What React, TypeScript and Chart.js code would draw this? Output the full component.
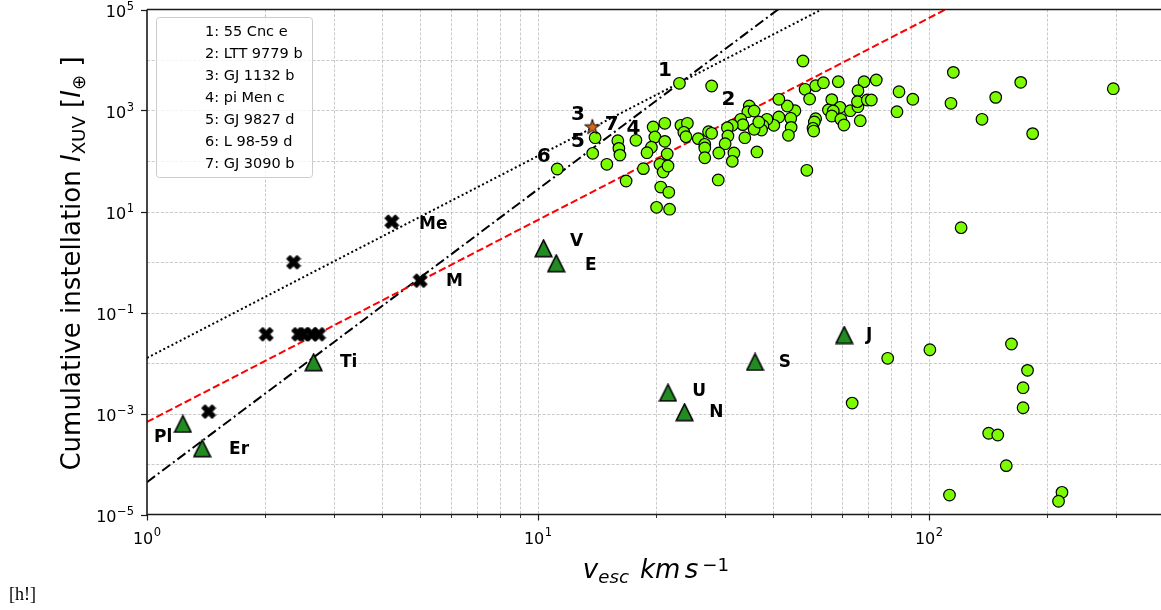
import React, { useEffect, useRef } from 'react';
import { Chart, registerables } from 'chart.js';

Chart.register(...registerables);

// ---------- data ----------
const planetV = [
  23.0, 27.8, 47.6, 48.2, 49.5, 51.3, 53.7, 58.6, 73.3, 68.2,
  65.8, 83.8, 90.9, 82.8, 56.4, 59.2, 55.3, 56.9, 56.4, 59.5,
  60.6, 62.9, 65.8, 65.6, 69.5, 71.2, 66.7, 51.3, 50.9, 50.5,
  50.7, 48.7, 45.4, 43.4, 41.3, 41.3, 44.3, 44.4, 43.7, 40.1,
  38.5, 37.6, 37.3, 35.7, 36.7, 36.3, 34.7, 34.4, 35.7, 33.0,
  33.4, 33.8, 31.4, 30.5, 30.6, 30.1, 29.0, 31.7, 31.4, 28.9,
  27.3, 27.8, 25.7, 26.7, 26.7, 26.7, 23.2, 24.1, 23.6, 23.9,
  21.1, 19.7, 19.9, 21.1, 19.5, 19.0, 21.4, 20.5, 20.9, 21.5,
  20.6, 21.6, 20.1, 21.7, 18.6, 17.8, 16.0, 16.1, 16.2, 16.8,
  15.0, 14.0, 13.8, 11.2,
  115.4, 113.8, 148.1, 171.6, 136.6, 184.1, 296, 120.8,
  78.4, 100.5, 162.5, 178.6, 174, 174, 63.6, 142.1, 149.9, 157.6, 112.8, 218.8, 214.4,
];
const planetI = [
  3460, 3055, 9550, 2630, 1690, 3100, 3550, 3720, 4020, 3720,
  2470, 2350, 1670, 946, 1640, 1156, 1023, 977, 778, 670,
  516, 991, 1189, 1494, 1614, 1614, 628, 689, 592, 444,
  392, 65.5, 991, 1227, 1667, 743, 701, 464, 323, 509,
  670, 500, 411, 425, 592, 151, 1227, 946, 977, 670,
  524, 289, 509, 456, 313, 220, 144, 144, 98.6, 42.1,
  380, 354, 277, 214, 181, 116, 509, 558, 370, 303,
  558, 471, 299, 245, 187, 146, 138, 86.1, 60.6, 79.6,
  30.5, 24.0, 12.1, 11.1, 70.5, 257, 252, 178, 131, 40.2,
  86.1, 289, 142, 69.5,
  5700, 1390, 1820, 3610, 670, 348, 2700, 4.78,
  0.0124, 0.0183, 0.0238, 0.00716, 0.00324, 0.0013, 0.00161, 4.06e-4, 3.75e-4, 9.27e-5, 2.43e-5, 2.75e-5, 1.83e-5,
];

// GJ 1132 b (star marker)
const starV = [13.77];
const starI = [477];

// Solar-system bodies (triangles)
const triangleV = [1.235, 1.384, 2.667, 10.33, 11.13, 21.5, 23.7, 35.9, 60.7];
const triangleI = [6.2e-4, 2.05e-4, 0.01033, 1.87, 0.942, 0.00258, 0.00106, 0.01047, 0.0358];

// rocky bodies (filled X)
const crossV = [4.227, 2.37, 2.018, 2.441, 2.513, 2.64, 2.746, 4.996, 1.437];
const crossI = [6.28, 0.986, 0.037, 0.037, 0.037, 0.037, 0.037, 0.427, 0.00109];

// body labels
const bodyLabels = ['Pl', 'Er', 'Ti', 'M', 'Me', 'V', 'E', 'U', 'N', 'S', 'J'];
const bodyLabelV = [1.042, 1.621, 3.116, 5.817, 4.963, 12.07, 13.19, 24.8, 27.4, 41.3, 69.0];
const bodyLabelI = [3.58e-4, 2.05e-4, 0.01096, 0.45, 6.11, 2.73, 0.942, 0.00292, 0.00112, 0.01096, 0.0375];

// numbered planet labels
const numLabels = ['1', '2', '3', '4', '5', '6', '7'];
const numLabelV = [20.28, 29.45, 12.15, 16.83, 12.15, 9.92, 14.81];
const numLabelI = [6640, 1807, 912, 477, 261, 131.5, 565];

const legendNames = [
  '1: 55 Cnc e',
  '2: LTT 9779 b',
  '3: GJ 1132 b',
  '4: pi Men c',
  '5: GJ 9827 d',
  '6: L 98-59 d',
  '7: GJ 3090 b',
];

// reference lines (power laws), endpoints
const lineV = [1, 400];
const redLineI = [6.8e-4, 1.74e7];
const dottedLineI = [0.0126, 3.22e8];
const dashDotLineI = [4.37e-5, 5.4e10];

// axes
const X_MIN = 1;
const X_MAX = 392;
const Y_MIN = 1e-5;
const Y_MAX = 1e5;
const xMajorTicks = [1, 10, 100];
const xMinorTicks = [2, 3, 4, 5, 6, 7, 8, 9, 20, 30, 40, 50, 60, 70, 80, 90, 200, 300];
const xLabelExp = [0, 1, 2];
const yGridExp = [-4, -3, -2, -1, 0, 1, 2, 3, 4];
const yLabelExp = [-5, -3, -1, 1, 3, 5];

const FONT = "'DejaVu Sans', sans-serif";

// ---------- marker images ----------
function makeTriangle(): HTMLCanvasElement {
  const s = 19;
  const c = document.createElement('canvas');
  c.width = s; c.height = s;
  const ctx = c.getContext('2d')!;
  ctx.beginPath();
  ctx.moveTo(s / 2, 1.2);
  ctx.lineTo(s - 1.2, s - 1.2);
  ctx.lineTo(1.2, s - 1.2);
  ctx.closePath();
  ctx.fillStyle = '#228b22';
  ctx.fill();
  ctx.lineWidth = 1.5;
  ctx.strokeStyle = '#000';
  ctx.lineJoin = 'miter';
  ctx.stroke();
  return c;
}

function makeCross(): HTMLCanvasElement {
  const s = 16;
  const size = 14;
  const o = (s - size) / 2;
  const pts = [
    [0.25, 0.0], [0.5, 0.25], [0.75, 0.0], [1.0, 0.25], [0.75, 0.5], [1.0, 0.75],
    [0.75, 1.0], [0.5, 0.75], [0.25, 1.0], [0.0, 0.75], [0.25, 0.5], [0.0, 0.25],
  ];
  const c = document.createElement('canvas');
  c.width = s; c.height = s;
  const ctx = c.getContext('2d')!;
  ctx.beginPath();
  pts.forEach(([px, py], i) => {
    const x = o + px * size;
    const y = o + py * size;
    if (i === 0) ctx.moveTo(x, y); else ctx.lineTo(x, y);
  });
  ctx.closePath();
  ctx.fillStyle = '#000';
  ctx.fill();
  ctx.lineWidth = 1;
  ctx.strokeStyle = '#000';
  ctx.stroke();
  return c;
}

function makeStar(): HTMLCanvasElement {
  const s = 18;
  const R = 8;
  const r = R * 0.381966;
  const c = document.createElement('canvas');
  c.width = s; c.height = s;
  const ctx = c.getContext('2d')!;
  ctx.beginPath();
  for (let i = 0; i < 10; i++) {
    const ang = -Math.PI / 2 + (i * Math.PI) / 5;
    const rad = i % 2 === 0 ? R : r;
    const x = s / 2 + rad * Math.cos(ang);
    const y = s / 2 + 0.6 + rad * Math.sin(ang);
    if (i === 0) ctx.moveTo(x, y); else ctx.lineTo(x, y);
  }
  ctx.closePath();
  ctx.fillStyle = '#d2691e';
  ctx.fill();
  ctx.lineWidth = 1;
  ctx.strokeStyle = '#000';
  ctx.stroke();
  return c;
}

// ---------- text helpers ----------
type Piece = { t?: string; font?: string; dy?: number; gap?: number };

function richWidth(ctx: CanvasRenderingContext2D, pieces: Piece[]) {
  let w = 0;
  for (const p of pieces) {
    if (p.gap) { w += p.gap; continue; }
    ctx.font = p.font!;
    w += ctx.measureText(p.t!).width;
  }
  return w;
}

function drawRich(ctx: CanvasRenderingContext2D, pieces: Piece[], x: number, y: number) {
  let cx = x;
  ctx.textAlign = 'left';
  ctx.textBaseline = 'alphabetic';
  for (const p of pieces) {
    if (p.gap) { cx += p.gap; continue; }
    ctx.font = p.font!;
    ctx.fillText(p.t!, cx, y + (p.dy || 0));
    cx += ctx.measureText(p.t!).width;
  }
}

function drawPow(ctx: CanvasRenderingContext2D, exp: number, x: number, baseY: number, align: 'right' | 'center') {
  const base = '10';
  const sup = exp < 0 ? '\u2212' + Math.abs(exp) : String(exp);
  ctx.font = `16px ${FONT}`;
  const wb = ctx.measureText(base).width;
  ctx.font = `11.5px ${FONT}`;
  const ws = ctx.measureText(sup).width;
  const total = wb + ws + 0.5;
  const left = align === 'right' ? x - total : x - total / 2;
  ctx.textAlign = 'left';
  ctx.textBaseline = 'alphabetic';
  ctx.fillStyle = '#000';
  ctx.font = `16px ${FONT}`;
  ctx.fillText(base, left, baseY);
  ctx.font = `11.5px ${FONT}`;
  ctx.fillText(sup, left + wb + 0.5, baseY - 7.2);
}

const decorPlugin = {
  id: 'decor',
  beforeDatasetsDraw(chart: any) {
    const { ctx, chartArea: a, scales } = chart;
    const xs = scales.x;
    const ys = scales.y;
    ctx.save();
    ctx.strokeStyle = '#bdbdbd';
    ctx.lineWidth = 0.8;
    ctx.setLineDash([3, 1.6]);
    [...xMajorTicks.slice(1), ...xMinorTicks].forEach((v) => {
      const px = Math.round(xs.getPixelForValue(v)) + 0.5;
      ctx.beginPath();
      ctx.moveTo(px, a.top);
      ctx.lineTo(px, a.bottom);
      ctx.stroke();
    });
    yGridExp.forEach((e) => {
      const py = Math.round(ys.getPixelForValue(Math.pow(10, e))) + 0.5;
      ctx.beginPath();
      ctx.moveTo(a.left, py);
      ctx.lineTo(a.right, py);
      ctx.stroke();
    });
    ctx.restore();
  },
  afterDatasetsDraw(chart: any) {
    const { ctx, chartArea: a, scales } = chart;
    const xs = scales.x;
    const ys = scales.y;
    ctx.save();

    // labels of bodies
    ctx.fillStyle = '#000';
    ctx.textAlign = 'left';
    ctx.textBaseline = 'alphabetic';
    ctx.font = `bold 17px ${FONT}`;
    bodyLabels.forEach((t, i) => {
      const px = xs.getPixelForValue(bodyLabelV[i]);
      const py = ys.getPixelForValue(bodyLabelI[i]);
      ctx.fillText(t, px, py + 0.365 * 17);
    });
    ctx.font = `bold 20px ${FONT}`;
    numLabels.forEach((t, i) => {
      const px = xs.getPixelForValue(numLabelV[i]);
      const py = ys.getPixelForValue(numLabelI[i]);
      ctx.fillText(t, px, py + 0.365 * 20);
    });

    // spines
    ctx.setLineDash([]);
    ctx.strokeStyle = '#1a1a1a';
    ctx.lineWidth = 1.6;
    ctx.beginPath();
    ctx.moveTo(a.left, a.top);
    ctx.lineTo(a.right + 2, a.top);
    ctx.moveTo(a.left, a.top);
    ctx.lineTo(a.left, a.bottom);
    ctx.lineTo(a.right + 2, a.bottom);
    ctx.stroke();

    // ticks
    ctx.lineWidth = 1.2;
    xMajorTicks.forEach((v) => {
      const px = Math.round(xs.getPixelForValue(v)) + 0.5;
      ctx.beginPath();
      ctx.moveTo(px, a.bottom);
      ctx.lineTo(px, a.bottom + 6);
      ctx.stroke();
    });
    ctx.lineWidth = 0.9;
    xMinorTicks.forEach((v) => {
      const px = Math.round(xs.getPixelForValue(v)) + 0.5;
      ctx.beginPath();
      ctx.moveTo(px, a.bottom);
      ctx.lineTo(px, a.bottom + 3.5);
      ctx.stroke();
    });
    ctx.lineWidth = 1.2;
    yLabelExp.forEach((e) => {
      const py = Math.round(ys.getPixelForValue(Math.pow(10, e))) + 0.5;
      ctx.beginPath();
      ctx.moveTo(a.left, py);
      ctx.lineTo(a.left - 6, py);
      ctx.stroke();
    });

    // tick labels
    yLabelExp.forEach((e) => {
      const py = ys.getPixelForValue(Math.pow(10, e));
      drawPow(ctx, e, a.left - 13, py + 7.7, 'right');
    });
    xLabelExp.forEach((e) => {
      const px = xs.getPixelForValue(Math.pow(10, e));
      drawPow(ctx, e, px, a.bottom + 29, 'center');
    });

    // axis titles
    ctx.fillStyle = '#000';
    const xTitle: Piece[] = [
      { t: 'v', font: `italic 26px ${FONT}` },
      { t: 'esc', font: `italic 18.2px ${FONT}`, dy: 5 },
      { gap: 11 },
      { t: 'km', font: `italic 26px ${FONT}` },
      { gap: 4.5 },
      { t: 's', font: `italic 26px ${FONT}` },
      { gap: 4 },
      { t: '\u22121', font: `18.2px ${FONT}`, dy: -7.5 },
    ];
    const xw = richWidth(ctx, xTitle);
    drawRich(ctx, xTitle, (a.left + a.right) / 2 + 2 - xw / 2, 578);

    const yTitle: Piece[] = [
      { t: 'Cumulative instellation ', font: `26px ${FONT}` },
      { t: 'I', font: `italic 26px ${FONT}` },
      { t: 'XUV', font: `18.2px ${FONT}`, dy: 5 },
      { t: ' [', font: `26px ${FONT}` },
      { t: 'I', font: `italic 26px ${FONT}` },
      { t: '\u2295', font: `18.2px ${FONT}`, dy: 5 },
      { t: ' ]', font: `26px ${FONT}` },
    ];
    const yw = richWidth(ctx, yTitle);
    ctx.save();
    ctx.translate(80, (a.top + a.bottom) / 2 + 1.5);
    ctx.rotate(-Math.PI / 2);
    drawRich(ctx, yTitle, -yw / 2, 0);
    ctx.restore();

    // legend
    const lx = 156.5, ly = 17.5, lw = 156, lh = 160;
    ctx.beginPath();
    if ((ctx as any).roundRect) (ctx as any).roundRect(lx, ly, lw, lh, 3);
    else ctx.rect(lx, ly, lw, lh);
    ctx.fillStyle = 'rgba(255,255,255,0.8)';
    ctx.fill();
    ctx.strokeStyle = '#cccccc';
    ctx.lineWidth = 1;
    ctx.stroke();
    ctx.fillStyle = '#000';
    ctx.font = `14.5px ${FONT}`;
    ctx.textAlign = 'left';
    ctx.textBaseline = 'alphabetic';
    legendNames.forEach((t, i) => {
      ctx.fillText(t, 205, 35.7 + i * 22.1);
    });

    // stray LaTeX float option text
    ctx.font = `18px 'Liberation Serif', serif`;
    ctx.fillText('[h!]', 9, 600);

    ctx.restore();
  },
};

export default function App() {
  const ref = useRef<HTMLCanvasElement>(null);

  useEffect(() => {
    const canvas = ref.current;
    if (!canvas) return;
    const tri = makeTriangle();
    const cross = makeCross();
    const star = makeStar();
    const toXY = (xs: number[], ys: number[]) => xs.map((x, i) => ({ x, y: ys[i] }));

    const chart = new Chart(canvas, {
      type: 'scatter',
      data: {
        datasets: [
          {
            data: toXY(planetV, planetI),
            pointRadius: 5.8,
            pointBackgroundColor: '#7cfc00',
            pointBorderColor: '#000',
            pointBorderWidth: 1.2,
            order: 3,
            clip: 0,
          } as any,
          {
            data: toXY(crossV, crossI),
            pointStyle: cross,
            pointRadius: 8,
            order: 2,
            clip: 0,
          } as any,
          {
            data: toXY(triangleV, triangleI),
            pointStyle: tri,
            pointRadius: 9,
            order: 2,
            clip: 0,
          } as any,
          {
            data: toXY(starV, starI),
            pointStyle: star,
            pointRadius: 8,
            order: 1,
            clip: 0,
          } as any,
          {
            data: toXY(lineV, redLineI),
            showLine: true,
            borderColor: '#ff0000',
            borderWidth: 2,
            borderDash: [7.4, 3.2],
            pointRadius: 0,
            order: 10,
            clip: 0,
          } as any,
          {
            data: toXY(lineV, dottedLineI),
            showLine: true,
            borderColor: '#000',
            borderWidth: 2,
            borderDash: [2, 2.6],
            pointRadius: 0,
            order: 10,
            clip: 0,
          } as any,
          {
            data: toXY(lineV, dashDotLineI),
            showLine: true,
            borderColor: '#000',
            borderWidth: 2,
            borderDash: [10, 3.5, 2, 3.5],
            pointRadius: 0,
            order: 10,
            clip: 0,
          } as any,
        ],
      },
      options: {
        responsive: false,
        animation: false,
        events: [],
        layout: { autoPadding: false, padding: { left: 147, top: 9.5, right: 0, bottom: 95.5 } },
        scales: {
          x: { type: 'logarithmic', min: X_MIN, max: X_MAX, display: false },
          y: { type: 'logarithmic', min: Y_MIN, max: Y_MAX, display: false },
        },
        plugins: {
          legend: { display: false },
          tooltip: { enabled: false },
        },
      },
      plugins: [decorPlugin],
    } as any);

    return () => chart.destroy();
  }, []);

  return (
    <div style={{ position: 'fixed', left: 0, top: 0, width: 1161, height: 610, background: '#fff', overflow: 'hidden' }}>
      <canvas ref={ref} width={1161} height={610} style={{ display: 'block' }} />
    </div>
  );
}
